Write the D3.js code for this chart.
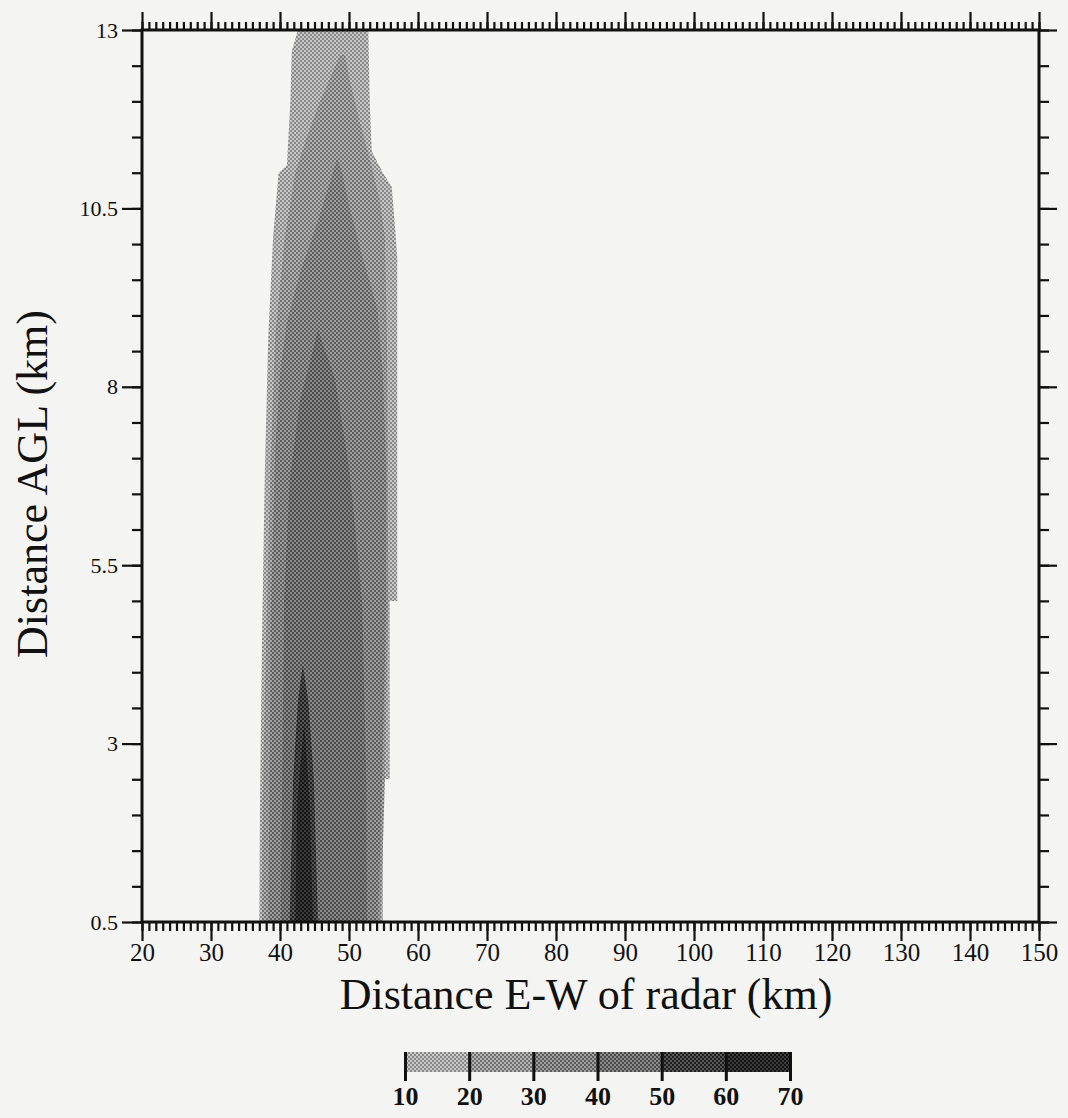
<!DOCTYPE html>
<html>
<head>
<meta charset="utf-8">
<script src="https://cdn.jsdelivr.net/npm/d3@7"></script>
<style>
  body { margin: 0; background: #f4f4f2; }
  svg { display: block; }
  text { font-family: "Liberation Serif", "Times New Roman", serif; fill: #111; }
</style>
</head>
<body>
<div id="chart"></div>
<script>
// reflectivity levels (dBZ) shown in the colour bar
const levels = [10, 20, 30, 40, 50, 60, 70];
// halftone shades per band: [light dot, dark dot]
const bandShades = [
  ['#c9c9c9', '#878787'],
  ['#b3b3b3', '#707070'],
  ['#a0a0a0', '#5c5c5c'],
  ['#8c8c8c', '#4a4a4a'],
  ['#5a5a5a', '#1e1e1e'],
  ['#3e3e3e', '#121212']
];

// contour outlines, [km E-W of radar, km AGL]
const dbz10 = [[37.0,0.5],[37.1,2.2],[37.4,4.5],[37.8,6.8],[38.3,8.7],[39.0,10.1],[39.8,11.0],[41.0,11.1],
  [41.5,12.0],[41.7,12.7],[42.6,13.0],[52.8,13.0],[53.0,12.0],[53.3,11.3],[54.9,11.0],[56.2,10.8],[56.7,10.2],
  [57.0,9.8],[57.0,5.0],[55.9,5.0],[55.9,2.5],[54.9,2.5],[54.9,0.5]];
const dbz20 = [[37.4,0.5],[37.5,2.2],[38.0,4.5],[38.6,6.8],[39.3,8.7],[40.7,10.1],[42.2,11.0],[43.9,11.5],
  [45.4,11.9],[48.7,12.65],[49.4,12.65],[50.1,12.3],[51.6,11.7],[53.0,11.2],[54.5,10.6],[55.2,10.1],
  [55.5,8.7],[55.7,5.0],[55.2,2.5],[54.6,0.5]];
const dbz30 = [[38.3,0.5],[38.7,5.0],[39.3,7.1],[40.0,8.2],[41.0,8.9],[42.9,9.6],[45.4,10.3],[48.3,11.2],
  [49.0,11.0],[50.1,10.5],[52.0,9.8],[54.1,9.1],[54.9,8.2],[55.4,6.8],[55.4,5.0],[54.8,2.5],[54.2,0.5]];
const dbz40 = [[40.1,0.5],[40.6,5.0],[41.4,6.7],[42.9,7.8],[45.5,8.8],[48.0,8.1],[50.1,6.8],[51.9,5.0],
  [52.5,2.5],[52.6,0.5]];
const dbz50 = [[41.4,0.5],[41.9,2.5],[42.6,3.6],[43.3,4.1],[44.1,3.6],[44.9,2.5],[45.5,0.5]];
const dbz60 = [[42.2,0.5],[42.5,2.2],[43.5,3.3],[44.3,2.2],[44.8,0.5]];
const contours = [dbz10, dbz20, dbz30, dbz40, dbz50, dbz60];

const xMajor = d3.range(20, 151, 10);
const xMinor = d3.range(20, 151, 1);
const yMajor = [0.5, 3, 5.5, 8, 10.5, 13];
const yMinor = d3.range(0.5, 13.01, 0.5);

const W = 1068, H = 1118;
const margin = {top: 30, right: 29, bottom: 196, left: 142};

const svg = d3.select('#chart').append('svg')
  .attr('width', W).attr('height', H);

const x = d3.scaleLinear().domain([20, 150]).range([margin.left, W - margin.right]);
const y = d3.scaleLinear().domain([0.5, 13]).range([H - margin.bottom, margin.top]);

// halftone fills
const defs = svg.append('defs');
bandShades.forEach((s, i) => {
  const p = defs.append('pattern').attr('id', 'ht' + i)
    .attr('patternUnits', 'userSpaceOnUse').attr('width', 4).attr('height', 4);
  p.append('rect').attr('width', 4).attr('height', 4).attr('fill', s[0]);
  p.append('rect').attr('width', 2).attr('height', 2).attr('fill', s[1]);
  p.append('rect').attr('x', 2).attr('y', 2).attr('width', 2).attr('height', 2).attr('fill', s[1]);
});
defs.append('clipPath').attr('id', 'plotclip').append('rect')
  .attr('x', x(20)).attr('y', y(13)).attr('width', x(150) - x(20)).attr('height', y(0.5) - y(13));

const line = d3.line().x(d => x(d[0])).y(d => y(d[1])).curve(d3.curveLinearClosed);

svg.append('g').attr('clip-path', 'url(#plotclip)')
  .selectAll('path').data(contours).join('path')
  .attr('d', line)
  .attr('fill', (d, i) => 'url(#ht' + i + ')');

// axes: minor + major per side
function styleAxis(g) {
  g.select('.domain').remove();
  g.selectAll('.tick line').attr('stroke', '#111').attr('stroke-width', 2.2);
}
const x0 = y(0.5), yTop = y(13);

svg.append('g').attr('transform', `translate(0,${x0})`)
  .call(d3.axisBottom(x).tickValues(xMinor).tickSize(9).tickFormat('')).call(styleAxis);
const bx = svg.append('g').attr('transform', `translate(0,${x0})`)
  .call(d3.axisBottom(x).tickValues(xMajor).tickSize(19).tickPadding(2)).call(styleAxis);
bx.selectAll('text').attr('font-size', 25).attr('font-family', '"Liberation Serif", serif').attr('fill', '#111');

svg.append('g').attr('transform', `translate(0,${yTop})`)
  .call(d3.axisTop(x).tickValues(xMinor).tickSize(8).tickFormat('')).call(styleAxis);
svg.append('g').attr('transform', `translate(0,${yTop})`)
  .call(d3.axisTop(x).tickValues(xMajor).tickSize(18).tickFormat('')).call(styleAxis);

svg.append('g').attr('transform', `translate(${x(20)},0)`)
  .call(d3.axisLeft(y).tickValues(yMinor).tickSize(10).tickFormat('')).call(styleAxis);
const ly = svg.append('g').attr('transform', `translate(${x(20)},0)`)
  .call(d3.axisLeft(y).tickValues(yMajor).tickSize(20).tickPadding(4).tickFormat(d => String(d)))
  .call(styleAxis);
ly.selectAll('text').attr('font-size', 22).attr('font-family', '"DejaVu Serif", serif').attr('fill', '#111');

svg.append('g').attr('transform', `translate(${x(150)},0)`)
  .call(d3.axisRight(y).tickValues(yMinor).tickSize(10).tickFormat('')).call(styleAxis);
svg.append('g').attr('transform', `translate(${x(150)},0)`)
  .call(d3.axisRight(y).tickValues(yMajor).tickSize(18).tickFormat('')).call(styleAxis);

// frame
svg.append('rect')
  .attr('x', x(20)).attr('y', y(13))
  .attr('width', x(150) - x(20)).attr('height', y(0.5) - y(13))
  .attr('fill', 'none').attr('stroke', '#111').attr('stroke-width', 3);

// axis titles
svg.append('text')
  .attr('x', 586).attr('y', 1009)
  .attr('text-anchor', 'middle').attr('font-size', 44)
  .text('Distance E-W of radar (km)');
svg.append('text')
  .attr('transform', `translate(47,${(y(0.5) + y(13)) / 2 + 8}) rotate(-90)`)
  .attr('text-anchor', 'middle').attr('font-size', 44)
  .text('Distance AGL (km)');

// colour bar
const cb = d3.scaleLinear().domain([10, 70]).range([405, 790]);
const cbTop = 1052, cbH = 20;
svg.append('g').selectAll('rect').data(d3.pairs(levels)).join('rect')
  .attr('x', d => cb(d[0])).attr('y', cbTop)
  .attr('width', d => cb(d[1]) - cb(d[0])).attr('height', cbH)
  .attr('fill', (d, i) => 'url(#ht' + i + ')');
const cbAxis = svg.append('g').attr('transform', `translate(0,${cbTop})`)
  .call(d3.axisBottom(cb).tickValues(levels).tickSize(cbH + 9).tickPadding(6));
cbAxis.select('.domain').remove();
cbAxis.selectAll('.tick line').attr('stroke', '#111').attr('stroke-width', 3);
cbAxis.selectAll('text').attr('font-size', 26).attr('font-weight', 'bold')
  .attr('font-family', '"Liberation Serif", serif').attr('fill', '#111');
</script>
</body>
</html>
